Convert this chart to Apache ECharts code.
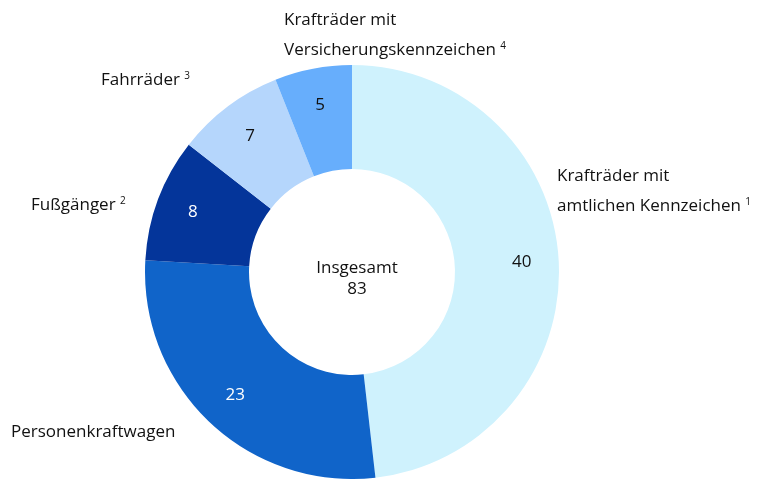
<!DOCTYPE html>
<html>
<head>
<meta charset="utf-8">
<script src="https://cdn.jsdelivr.net/npm/echarts@6/dist/echarts.min.js"></script>
<style>
  html, body { margin: 0; padding: 0; background: #fff; }
  #chart { width: 763px; height: 479px; }
</style>
</head>
<body>
<div id="chart"></div>
<script>
const categories = [
  'Krafträder mit\namtlichen Kennzeichen {sup|1}',
  'Personenkraftwagen',
  'Fußgänger {sup|2}',
  'Fahrräder {sup|3}',
  'Krafträder mit\nVersicherungskennzeichen {sup|4}'
]
const values = [40, 23, 8, 7, 5]
const colors = ['#cff2fd', '#1064c9', '#04359a', '#b5d6fc', '#67aefc']
const valueColors = ['#111111', '#ffffff', '#ffffff', '#111111', '#111111']
const totalLabel = 'Insgesamt'

// where each category name sits around the ring
const namePos = [
  { x: 557, y: 191 },
  { x: 11, y: 432 },
  { x: 31, y: 205 },
  { x: 101, y: 80 },
  { x: 284, y: 35 }
]

const font = '"Open Sans", sans-serif'
const total = values.reduce((a, b) => a + b, 0)

const chart = echarts.init(document.getElementById('chart'))

const pieData = values.map((v, i) => ({
  name: categories[i],
  value: v,
  itemStyle: { color: colors[i] }
}))

chart.setOption({
  animation: false,
  textStyle: { fontFamily: font },
  title: {
    text: totalLabel + '\n' + total,
    left: 352,
    top: 274,
    textAlign: 'center',
    textVerticalAlign: 'middle',
    textStyle: {
      fontFamily: font,
      fontSize: 17,
      fontWeight: 'normal',
      color: '#111',
      lineHeight: 21
    }
  },
  series: [
    {
      type: 'pie',
      center: [352, 272],
      radius: [103, 207],
      startAngle: 90,
      clockwise: true,
      silent: true,
      data: pieData,
      labelLine: { show: false },
      label: {
        show: true,
        position: 'outside',
        formatter: '{b}',
        overflow: 'none',
        width: 400,
        fontFamily: font,
        fontSize: 17,
        color: '#111',
        lineHeight: 30,
        rich: {
          sup: { fontSize: 10, padding: [0, 0, 7, 0], fontFamily: font, color: '#111' }
        }
      },
      labelLayout: function (params) {
        const p = namePos[params.dataIndex]
        return { x: p.x, y: p.y, align: 'left', verticalAlign: 'middle', hideOverlap: false }
      }
    },
    {
      type: 'pie',
      center: [352, 272],
      radius: [127, 207],
      startAngle: 90,
      clockwise: true,
      silent: true,
      data: values.map((v, i) => ({
        name: categories[i],
        value: v,
        itemStyle: { color: 'transparent' },
        label: { color: valueColors[i] }
      })),
      labelLine: { show: false },
      label: {
        show: true,
        position: 'inside',
        formatter: '{c}',
        fontFamily: font,
        fontSize: 17
      }
    }
  ]
})
</script>
</body>
</html>
